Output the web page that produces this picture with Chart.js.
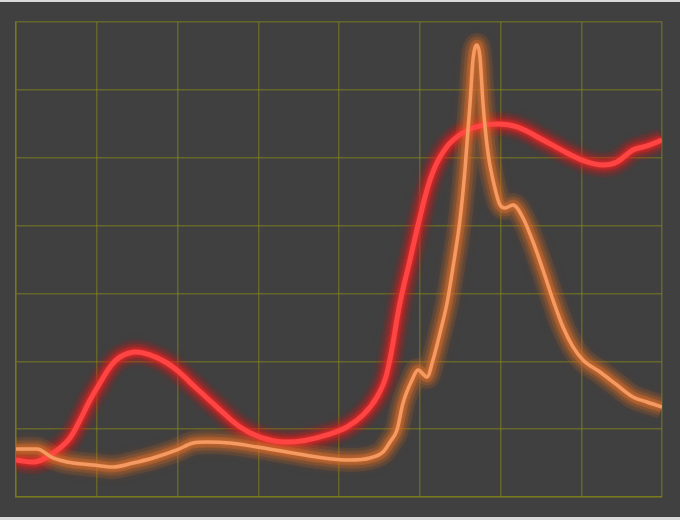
<!DOCTYPE html>
<html>
<head>
<meta charset="utf-8">
<script src="https://cdn.jsdelivr.net/npm/chart.js@4"></script>
<style>
  html, body { margin: 0; padding: 0; background: #d9d9d9; }
  #wrap { margin-top: 2px; width: 680px; height: 515px; background: #404040; }
</style>
</head>
<body>
<div id="wrap"><canvas id="chart"></canvas></div>
<script>
// red series (thick line)
const redX = [0, 2.35, 3.84, 5.45, 6.69, 7.93, 9.17, 10.4, 11.64, 12.88, 14.74, 16.6, 18.7, 20.31, 21.55,
  24.89, 27.74, 30.22, 33.07, 36.04, 38.51, 40.99, 42.97, 44.71, 45.94, 47.55, 48.79, 50.03, 51.27,
  52.51, 54.12, 56.59, 59.57, 62.04, 65.26, 68.24, 70.71, 72.69, 74.42, 76.4, 78.14, 80];
const redY = [5.45, 5.16, 5.89, 7.22, 8.69, 11.35, 14.29, 16.8, 19.16, 20.63, 21.37, 20.93, 19.75, 18.3, 16.9,
  13.26, 10.32, 8.84, 8.11, 8.4, 9.14, 10.32, 12.08, 14.74, 18.27, 28.59, 34.93, 41.26, 46.72,
  50.11, 52.61, 54.38, 54.97, 54.53, 52.61, 50.7, 49.37, 48.93, 49.37, 51.14, 51.73, 52.61];

// orange series (thin line with the spike)
const orangeX = [0, 2.6, 4.58, 6.32, 9.54, 12.01, 14.49, 16.97, 19.94, 21.92, 23.65, 26.5, 29.85, 33.56,
  37.28, 41.36, 43.84, 45.45, 46.32, 47.18, 47.93, 49.04, 49.78, 50.9, 51.64, 52.51, 53.38, 54.12,
  54.98, 55.6, 56.23, 56.59, 57.09, 57.46, 57.83, 58.45, 59.07, 59.94, 60.56, 61.55, 62.79, 64.03,
  65.26, 66.5, 67.74, 68.98, 70.21, 72.32, 74.42, 76.4, 78.14, 80];
const orangeY = [7.07, 7.07, 5.75, 5.16, 4.72, 4.42, 5.01, 5.75, 6.93, 7.96, 8.11, 7.96, 7.37, 6.63,
  5.89, 5.45, 5.75, 6.63, 8.11, 9.87, 13.85, 17.24, 18.72, 17.68, 20.19, 24.17, 28.59, 33.89,
  40.82, 48.19, 58.06, 64.4, 66.61, 64.84, 58.06, 50.7, 46.72, 43.03, 42.59, 43.03, 41.12, 37.58,
  33.45, 29.03, 25.05, 22.11, 20.19, 18.42, 16.51, 14.74, 14.0, 13.26];

const xTicks = [0, 10, 20, 30, 40, 50, 60, 70, 80];
const yTicks = [0, 10, 20, 30, 40, 50, 60, 70];

const toPoints = (xs, ys) => xs.map((x, i) => ({ x: x, y: ys[i] }));

// soft shadow on every dataset that has a glowColor
const glow = {
  id: 'glow',
  beforeDatasetDraw(chart, args) {
    const ds = chart.data.datasets[args.index];
    chart.ctx.save();
    if (ds.glowColor) {
      chart.ctx.shadowColor = ds.glowColor;
      chart.ctx.shadowBlur = ds.glowBlur;
    }
  },
  afterDatasetDraw(chart) {
    chart.ctx.restore();
  }
};

// nested translucent bands under each line make the halo fade out
const haloWidths = [24, 17, 11];
const haloAlphas = [0.12, 0.2, 0.35];

function halo(points, rgb, lineOpts) {
  return haloWidths.map((w, i) => Object.assign({
    data: points,
    borderColor: 'rgba(' + rgb + ',' + haloAlphas[i] + ')',
    borderWidth: w,
    glowColor: 'rgba(' + rgb + ',0.6)',
    glowBlur: 8
  }, lineOpts));
}

const gridColor = 'rgba(140,140,20,0.5)';

const orangeLine = { cubicInterpolationMode: 'monotone', pointRadius: 0 };
const redLine = { tension: 0.4, pointRadius: 0 };

const orangePts = toPoints(orangeX, orangeY);
const redPts = toPoints(redX, redY);

new Chart(document.getElementById('chart'), {
  type: 'line',
  data: {
    datasets: [
      Object.assign({ data: orangePts, borderColor: '#f59a62', borderWidth: 3.5,
        glowColor: 'rgba(235,120,50,0.8)', glowBlur: 4 }, orangeLine),
      Object.assign({ data: redPts, borderColor: '#ff4444', borderWidth: 5,
        glowColor: 'rgba(255,50,50,0.8)', glowBlur: 4 }, redLine)
    ].concat(halo(orangePts, '210,105,40', orangeLine).reverse(), halo(redPts, '215,30,30', redLine).reverse())
  },
  options: {
    responsive: true,
    maintainAspectRatio: false,
    animation: false,
    layout: { padding: { left: 16, right: 18, top: 20, bottom: 20 } },
    plugins: {
      legend: { display: false },
      tooltip: { enabled: false }
    },
    scales: {
      x: {
        type: 'linear',
        min: 0,
        max: 80,
        afterBuildTicks: (axis) => { axis.ticks = xTicks.map(v => ({ value: v })); },
        ticks: { display: false },
        grid: { color: gridColor, lineWidth: 1.5, drawTicks: false },
        border: { color: gridColor, width: 1.5 }
      },
      y: {
        min: 0,
        max: 70,
        afterBuildTicks: (axis) => { axis.ticks = yTicks.map(v => ({ value: v })); },
        ticks: { display: false },
        grid: { color: gridColor, lineWidth: 1.5, drawTicks: false },
        border: { color: gridColor, width: 1.5 }
      }
    }
  },
  plugins: [glow]
});
</script>
</body>
</html>
